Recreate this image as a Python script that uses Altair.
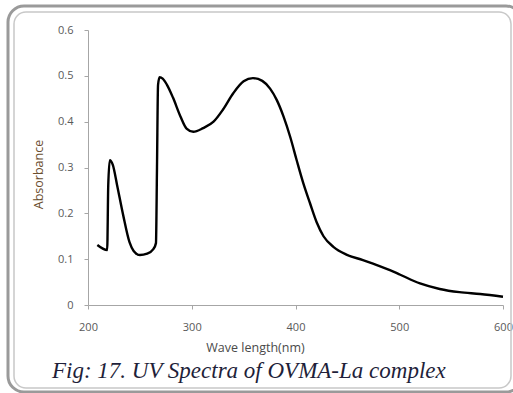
import altair as alt
import pandas as pd

wavelength = [209, 218.5, 219.5, 221, 224, 228, 234, 240, 244, 250, 257, 263, 265.5, 266.5,
              267.5, 269, 272, 276, 282, 289, 295, 301.5, 311, 321, 330, 340, 350, 359,
              368, 375.5, 382, 388.5, 395, 401, 407.5, 414, 420.5, 427, 436.5, 449, 465,
              481, 491, 501, 520, 539, 558, 578, 600]
absorbance = [0.131, 0.120, 0.26, 0.316, 0.305, 0.262, 0.195, 0.137, 0.118, 0.109, 0.112, 0.122, 0.135, 0.30,
              0.48, 0.497, 0.494, 0.481, 0.452, 0.412, 0.385, 0.378, 0.386, 0.400, 0.426, 0.462, 0.488, 0.495,
              0.489, 0.472, 0.447, 0.411, 0.366, 0.317, 0.266, 0.222, 0.180, 0.150, 0.127, 0.110, 0.098,
              0.085, 0.076, 0.066, 0.047, 0.035, 0.028, 0.024, 0.018]

x_ticks = [200, 300, 400, 500, 600]
y_ticks = [0, 0.1, 0.2, 0.3, 0.4, 0.5, 0.6]
x_title = "Wave length(nm)"
y_title = "Absorbance"
caption = "Fig: 17. UV Spectra of OVMA-La complex"

df = pd.DataFrame({"wl": wavelength, "abs": absorbance})

line = alt.Chart(df).mark_line(color="black", strokeWidth=2.4, interpolate="monotone").encode(
    x=alt.X("wl:Q", scale=alt.Scale(domain=[200, 600], nice=False),
            axis=alt.Axis(values=x_ticks, title=x_title, grid=False, domainColor="#a6a6a6",
                          tickColor="#a6a6a6", tickSize=4, labelColor="#595959", labelFontSize=11,
                          labelFont="Open Sans", labelPadding=12, labelFlush=False, labelOverlap=False,
                          titleFont="Open Sans", titleFontSize=12.5,
                          titleFontWeight="normal", titleColor="#4a4a4a", titleX=167, titleY=42,
                          titleBaseline="middle", titleAnchor="middle")),
    y=alt.Y("abs:Q", scale=alt.Scale(domain=[0, 0.6], nice=False),
            axis=alt.Axis(values=y_ticks, title=y_title, grid=False, domainColor="#a6a6a6",
                          tickColor="#a6a6a6", tickSize=4, labelColor="#595959", labelFontSize=11,
                          labelFont="Open Sans", labelPadding=11, labelFlush=False,
                          labelExpr="datum.value == 0 ? '0' : format(datum.value, '.1f')",
                          titleFont="Open Sans", titleFontSize=12.5, titleFontWeight="normal",
                          titleColor="#6b4e2e", titleX=-50, titleY=144, titleBaseline="middle")),
)

cap = alt.Chart(pd.DataFrame({"t": [caption]})).mark_text(
    font="Liberation Serif", fontStyle="italic", fontSize=23, color="#1f1f3a",
    align="left", baseline="alphabetic").encode(
    text="t:N", x=alt.value(-36), y=alt.value(348))

outer = alt.Chart(pd.DataFrame({"a": [0]})).mark_rect(
    fill=None, stroke="#9a9a9a", strokeWidth=3, cornerRadius=16).encode(
    x=alt.value(-80), x2=alt.value(434), y=alt.value(-24), y2=alt.value(362))
inner = alt.Chart(pd.DataFrame({"a": [0]})).mark_rect(
    fill=None, stroke="#c8c8c8", strokeWidth=1.5, cornerRadius=12).encode(
    x=alt.value(-74), x2=alt.value(423), y=alt.value(-18), y2=alt.value(358))

chart = alt.layer(outer, inner, line, cap).properties(
    width=415, height=275,
    padding={"left": 88, "top": 30, "right": 10, "bottom": 88},
    autosize=alt.AutoSizeParams(type="none"),
    background="white",
).configure_view(stroke=None)

chart.save("out.html", embed_options={"renderer": "svg", "actions": False})
